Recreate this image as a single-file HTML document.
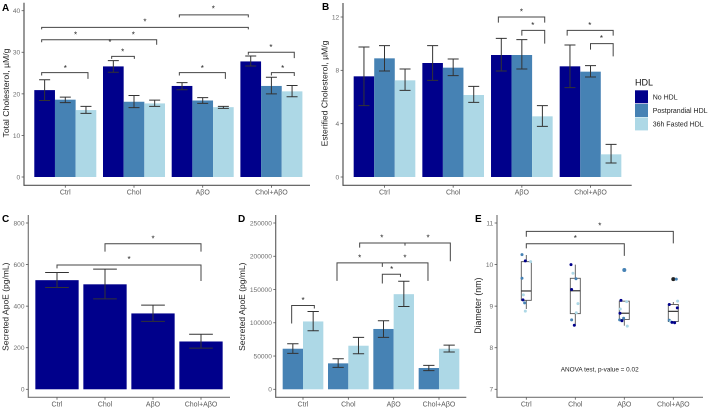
<!DOCTYPE html>
<html lang="en">
<head>
<meta charset="utf-8">
<title>HDL cholesterol and ApoE panels</title>
<style>
html,body{margin:0;padding:0;background:#fff;width:708px;height:410px;overflow:hidden}
svg{display:block;filter:blur(0.35px)}
text{font-family:"Liberation Sans",sans-serif}
</style>
</head>
<body>
<svg id="figure" width="708" height="410" viewBox="0 0 708 410" xmlns="http://www.w3.org/2000/svg">
  <rect width="708" height="410" fill="#fff"/>
  <text x="2" y="11" font-size="10" font-weight="bold" fill="#000">A</text>
  <text x="322" y="10" font-size="10" font-weight="bold" fill="#000">B</text>
  <text x="2" y="222" font-size="10" font-weight="bold" fill="#000">C</text>
  <text x="238" y="222" font-size="10" font-weight="bold" fill="#000">D</text>
  <text x="475" y="222" font-size="10" font-weight="bold" fill="#000">E</text>
  <g>
    <text x="635" y="85.5" font-size="9" fill="#111">HDL</text>
    <rect x="635" y="90.3" width="13" height="13" fill="#00008b"/>
    <rect x="635" y="104" width="13" height="13" fill="#4682b4"/>
    <rect x="635" y="117.4" width="13" height="13" fill="#add8e6"/>
    <text x="652.7" y="99.3" font-size="7" fill="#222">No HDL</text>
    <text x="652.7" y="113" font-size="7" fill="#222">Postprandial HDL</text>
    <text x="652.7" y="126.5" font-size="7" fill="#222">36h Fasted HDL</text>
  </g>
</svg>
<script>
// ---------- Shared categories ----------
const categories = ["Ctrl", "Chol", "AβO", "Chol+AβO"];

// ---------- Panel A: total cholesterol ----------
const aTicks = [0, 10, 20, 30, 40];
const aNoHdl = [20.9, 26.6, 21.9, 27.8];
const aNoHdlLow = [18.4, 25.2, 21.0, 26.7];
const aNoHdlHigh = [23.4, 28.0, 22.7, 29.1];
const aPostprandial = [18.6, 18.1, 18.4, 21.9];
const aPostprandialLow = [17.9, 16.7, 17.7, 20.0];
const aPostprandialHigh = [19.2, 19.6, 19.1, 24.0];
const aFasted = [16.1, 17.7, 16.8, 20.6];
const aFastedLow = [15.3, 17.0, 16.5, 19.3];
const aFastedHigh = [17.0, 18.5, 17.0, 22.0];
const aBrackets = [
  [1.66, 2.664, 39.0, 38.4, 38.4],
  [-0.344, 2.664, 36.0, 35.5, 35.5],
  [-0.344, 1.33, 33.0, 32.4, 31.8],
  [0.675, 1.005, 29.0, 28.4, 28.4],
  [-0.344, 0.33, 25.1, 24.4, 23.6],
  [1.66, 2.33, 25.1, 24.4, 23.6],
  [2.664, 3.333, 30.0, 29.4, 28.6],
  [3.0, 3.333, 25.1, 24.4, 24.3]
];
const aStars = [[2.155, 40.8], [1.16, 37.7], [0.15, 34.6], [0.99, 34.6], [0.65, 32.8], [0.835, 30.5], [0, 26.5], [1.995, 26.5], [2.994, 31.6], [3.164, 26.5]];

// ---------- Panel B: esterified cholesterol ----------
const bTicks = [0, 4, 8, 12];
const bNoHdl = [7.55, 8.55, 9.15, 8.3];
const bNoHdlLow = [5.35, 7.25, 7.95, 6.7];
const bNoHdlHigh = [9.75, 9.85, 10.4, 9.9];
const bPostprandial = [8.9, 8.2, 9.15, 7.9];
const bPostprandialLow = [7.95, 7.6, 8.1, 7.5];
const bPostprandialHigh = [9.85, 8.85, 10.3, 8.35];
const bFasted = [7.25, 6.15, 4.55, 1.7];
const bFastedLow = [6.5, 5.6, 3.8, 1.05];
const bFastedHigh = [8.1, 6.8, 5.35, 2.45];
const bBrackets = [
  [1.658, 2.333, 12.0, 11.58, 11.58],
  [2.0, 2.333, 11.0, 10.6, 10.0],
  [2.66, 3.33, 11.0, 10.6, 10.6],
  [3.0, 3.33, 10.0, 9.55, 9.05]
];
const bStars = [[1.995, 12.5], [2.16, 11.5], [2.99, 11.5], [3.16, 10.5]];

// ---------- Panel C: secreted ApoE, single series ----------
const cTicks = [0, 200, 400, 600, 800];
const cNoHdl = [525, 505, 365, 230];
const cNoHdlLow = [490, 435, 327, 198];
const cNoHdlHigh = [562, 578, 405, 265];
const cBrackets = [
  [1, 3, 700, 662, 662],
  [0, 3, 598, 582, 521]
];
const cStars = [[2, 732], [1.5, 633]];

// ---------- Panel D: secreted ApoE, two series ----------
const dTicks = [0, 50000, 100000, 150000, 200000, 250000];
const dPostprandial = [61000, 39000, 90700, 32000];
const dPostprandialLow = [54000, 33000, 78000, 28000];
const dPostprandialHigh = [68500, 46000, 103000, 36000];
const dFasted = [102000, 65500, 143000, 61000];
const dFastedLow = [88000, 53500, 124500, 56000];
const dFastedHigh = [117000, 78000, 162500, 66500];
const dBrackets = [
  [-0.25, 0.25, 126000, 99000, 121500],
  [1.25, 3.25, 220000, 213000, 192500],
  [0.75, 2.757, 190000, 163000, 163000],
  [1.75, 2.15, 173000, 159000, 169000],
  [2.25, 2.25, 220000, 216000, 216000],
  [1.75, 1.75, 190000, 184000, 184000]
];
const dStars = [[0, 136000], [1.74, 230000], [2.76, 230000], [1.25, 200000], [2.25, 200000], [1.956, 183000]];

// ---------- Panel E: particle diameter ----------
const eTicks = [7, 8, 9, 10, 11];
const eBoxLow = [8.93, 8.53, 8.53, 8.63];
const eBoxQ1 = [9.14, 8.82, 8.68, 8.63];
const eBoxMedian = [9.365, 9.37, 8.83, 8.875];
const eBoxQ3 = [10.07, 9.67, 9.12, 9.04];
const eBoxHigh = [10.23, 10.0, 9.12, 9.1];
const eOutliers = [[2, 9.87, "#4682b4"], [3, 9.65, "#222222"]];
const ePointGroup = [0,0,0,0,0,0,0,0, 1,1,1,1,1,1,1,1, 2,2,2,2,2,2,2,2, 3,3,3,3,3,3,3,3];
const ePointJitter = [-0.088,-0.02,0.088,-0.088,-0.061,-0.068,-0.034,-0.02, -0.088,-0.048,0.014,-0.075,0.054,0.02,-0.075,-0.02, -0.068,0.048,-0.082,-0.088,-0.014,-0.095,-0.048,0.061, 0.061,0.088,-0.082,0.082,-0.082,-0.054,-0.027,0.027];
const ePointValue = [10.24,10.09,10.07,9.67,9.27,9.15,9.08,8.88, 10.0,9.79,9.66,9.40,9.06,8.84,8.67,8.54, 9.14,9.11,8.93,8.83,8.71,8.67,8.65,8.52, 9.65,9.12,9.04,8.96,8.66,8.63,8.61,8.60];
const ePointSeries = [1,0,2,1,2,0,1,2, 0,2,1,0,2,2,1,0, 0,2,2,0,1,1,0,2, 1,2,0,0,1,2,0,0];
const eBrackets = [
  [0, 3, 10.8, 10.67, 10.51],
  [0, 2, 10.5, 10.39, 10.21]
];
const eStars = [[1.5, 10.97], [1, 10.67]];
const eNote = "ANOVA test, p-value = 0.02";

// ---------- Colours ----------
const NAVY = "#00008b", STEEL = "#4682b4", LIGHT = "#add8e6";
const svg = document.getElementById("figure");

function make(tag, attrs, parent) {
  const node = document.createElementNS("http://www.w3.org/2000/svg", tag);
  for (const k in attrs) node.setAttribute(k, attrs[k]);
  parent.appendChild(node);
  return node;
}

function drawFrame(cfg) {
  const g = make("g", {}, svg);
  
  
  cfg.root = g;
  const yAxis = make("line", {x1: cfg.axisX, x2: cfg.axisX, y1: cfg.axisTop, y2: cfg.axisBottom + 0.6, stroke: cfg.axisColor, "stroke-width": 1.2}, g);
  
  
  const xAxis = make("line", {x1: cfg.axisX, x2: cfg.axisRight, y1: cfg.axisBottom, y2: cfg.axisBottom, stroke: cfg.axisColor, "stroke-width": 1.2}, g);
  
  
  cfg.ticks.forEach(function (t) {
    const y = cfg.yScale(t);
    const tick = make("line", {x1: cfg.axisX - 2.4, x2: cfg.axisX, y1: y, y2: y, stroke: "#555", "stroke-width": 0.8}, g);
    
    
    const label = make("text", {x: cfg.axisX - 3.8, y: y + 2.4, "font-size": 6.6, fill: "#6e6e6e", "text-anchor": "end"}, g);
    
    
    label.textContent = t;
  });
  categories.forEach(function (c, i) {
    const x = cfg.xScale(i);
    const tick = make("line", {x1: x, x2: x, y1: cfg.axisBottom, y2: cfg.axisBottom + 2.4, stroke: "#555", "stroke-width": 0.8}, g);
    
    
    const label = make("text", {x: x, y: cfg.axisBottom + 9, "font-size": 7, fill: "#5a5a5a", "text-anchor": "middle"}, g);
    
    
    label.textContent = c;
  });
  const title = make("text", {transform: "translate(" + cfg.titleX + "," + cfg.titleY + ") rotate(-90)", "font-size": cfg.titleSize, fill: "#222", "text-anchor": "middle"}, g);
  
  
  title.textContent = cfg.title;
}

function drawBars(cfg, series) {
  const n = series.length;
  series.forEach(function (s, j) {
    s.values.forEach(function (v, i) {
      const cx = cfg.xScale(i) + (j - (n - 1) / 2) * cfg.barWidth;
      const bar = make("rect", {x: cx - cfg.barWidth / 2, y: cfg.yScale(v), width: cfg.barWidth, height: cfg.yScale(cfg.ticks[0]) - cfg.yScale(v), fill: s.color}, cfg.root);
      
      
    });
  });
  series.forEach(function (s, j) {
    s.values.forEach(function (v, i) {
      const cx = cfg.xScale(i) + (j - (n - 1) / 2) * cfg.barWidth;
      const yl = cfg.yScale(s.low[i]), yh = cfg.yScale(s.high[i]), c = cfg.capWidth / 2;
      const err = make("path", {d: "M" + (cx - c) + " " + yl + "H" + (cx + c) + "M" + (cx - c) + " " + yh + "H" + (cx + c) + "M" + cx + " " + yl + "V" + yh, fill: "none", stroke: "#333", "stroke-width": 1}, cfg.root);
      
      
    });
  });
}

function drawBrackets(cfg, brackets, stars) {
  brackets.forEach(function (b) {
    const x1 = cfg.xScale(b[0]), x2 = cfg.xScale(b[1]);
    const y = cfg.yScale(b[2]);
    const br = make("path", {d: "M" + x1 + " " + cfg.yScale(b[3]) + "V" + y + "H" + x2 + "V" + cfg.yScale(b[4]), fill: "none", stroke: "#444", "stroke-width": 1}, cfg.root);
    
    
  });
  stars.forEach(function (s) {
    const star = make("text", {x: cfg.xScale(s[0]), y: cfg.yScale(s[1]) + 4.2, "font-size": 8, fill: "#222", "text-anchor": "middle"}, cfg.root);
    
    
    star.textContent = "*";
  });
}

function linearY(v0, p0, v1, p1) {
  return function (v) { return p0 + (v - v0) * (p1 - p0) / (v1 - v0); };
}
function linearX(start, step) {
  return function (i) { return start + i * step; };
}

// Panel A
const panelA = {name: "panel-a-total-cholesterol", axisX: 24, axisRight: 310, axisTop: 2.7, axisBottom: 185.3, axisColor: "#555",
  ticks: aTicks, yScale: linearY(0, 177, 40, 10.7), xScale: linearX(65.3, 68.7), barWidth: 20.67, capWidth: 11,
  title: "Total Cholesterol, µM/g", titleX: 8.8, titleY: 93, titleSize: 8.7};
drawFrame(panelA);
drawBars(panelA, [
  {values: aNoHdl, low: aNoHdlLow, high: aNoHdlHigh, color: NAVY},
  {values: aPostprandial, low: aPostprandialLow, high: aPostprandialHigh, color: STEEL},
  {values: aFasted, low: aFastedLow, high: aFastedHigh, color: LIGHT}
]);
drawBrackets(panelA, aBrackets, aStars);

// Panel B
const panelB = {name: "panel-b-esterified-cholesterol", axisX: 343, axisRight: 631.7, axisTop: 3, axisBottom: 185.3, axisColor: "#555",
  ticks: bTicks, yScale: linearY(0, 177, 12, 17), xScale: linearX(384.5, 68.67), barWidth: 20.55, capWidth: 11,
  title: "Esterified Cholesterol, µM/g", titleX: 327.5, titleY: 93.5, titleSize: 8.6};
drawFrame(panelB);
drawBars(panelB, [
  {values: bNoHdl, low: bNoHdlLow, high: bNoHdlHigh, color: NAVY},
  {values: bPostprandial, low: bPostprandialLow, high: bPostprandialHigh, color: STEEL},
  {values: bFasted, low: bFastedLow, high: bFastedHigh, color: LIGHT}
]);
drawBrackets(panelB, bBrackets, bStars);

// Panel C
const panelC = {name: "panel-c-secreted-apoe", axisX: 28.3, axisRight: 230, axisTop: 215, axisBottom: 397.3, axisColor: "#777",
  ticks: cTicks, yScale: linearY(0, 389.3, 800, 223), xScale: linearX(57, 48), barWidth: 43.3, capWidth: 23.7,
  title: "Secreted ApoE (pg/mL)", titleX: 8.3, titleY: 306.7, titleSize: 8.5};
drawFrame(panelC);
drawBars(panelC, [{values: cNoHdl, low: cNoHdlLow, high: cNoHdlHigh, color: NAVY}]);
drawBrackets(panelC, cBrackets, cStars);

// Panel D
const panelD = {name: "panel-d-secreted-apoe-by-hdl", axisX: 275.7, axisRight: 466.3, axisTop: 215, axisBottom: 397.3, axisColor: "#666",
  ticks: dTicks, yScale: linearY(0, 389.3, 250000, 223), xScale: linearX(303, 45.33), barWidth: 20.33, capWidth: 11.3,
  title: "Secreted ApoE (pg/mL)", titleX: 244.8, titleY: 306.7, titleSize: 8.5};
drawFrame(panelD);
drawBars(panelD, [
  {values: dPostprandial, low: dPostprandialLow, high: dPostprandialHigh, color: STEEL},
  {values: dFasted, low: dFastedLow, high: dFastedHigh, color: LIGHT}
]);
drawBrackets(panelD, dBrackets, dStars);

// Panel E
const panelE = {name: "panel-e-diameter", axisX: 497, axisRight: 703, axisTop: 215, axisBottom: 397.3, axisColor: "#777",
  ticks: eTicks, yScale: linearY(7, 389.3, 11, 223), xScale: linearX(526.3, 49), barWidth: 10, capWidth: 0,
  title: "Diameter (nm)", titleX: 481, titleY: 305.7, titleSize: 8.8};
drawFrame(panelE);
const eColors = [NAVY, STEEL, LIGHT];
eBoxQ1.forEach(function (q1, i) {
  const x = panelE.xScale(i), y = panelE.yScale;
  const whisker = make("path", {d: "M" + x + " " + y(eBoxLow[i]) + "V" + y(q1) + "M" + x + " " + y(eBoxQ3[i]) + "V" + y(eBoxHigh[i]), stroke: "#555", "stroke-width": 0.9, fill: "none"}, panelE.root);
  
  
  const box = make("rect", {x: x - 5, y: y(eBoxQ3[i]), width: 10, height: y(q1) - y(eBoxQ3[i]), fill: "#fff", stroke: "#555", "stroke-width": 0.9}, panelE.root);
  
  
  const median = make("line", {x1: x - 5, x2: x + 5, y1: y(eBoxMedian[i]), y2: y(eBoxMedian[i]), stroke: "#333", "stroke-width": 1.2}, panelE.root);
  
  
});
eOutliers.forEach(function (o) {
  const c = make("circle", {cx: panelE.xScale(o[0]), cy: panelE.yScale(o[1]), r: 2, fill: o[2]}, panelE.root);
  
  
});
ePointValue.forEach(function (v, k) {
  const c = make("circle", {cx: panelE.xScale(ePointGroup[k] + ePointJitter[k]), cy: panelE.yScale(v), r: 1.5, fill: eColors[ePointSeries[k]]}, panelE.root);
  
  
});
drawBrackets(panelE, eBrackets, eStars);
const note = make("text", {x: 599.7, y: 371.3, "font-size": 6.4, fill: "#222", "text-anchor": "middle"}, panelE.root);


note.textContent = eNote;
</script>
</body>
</html>
